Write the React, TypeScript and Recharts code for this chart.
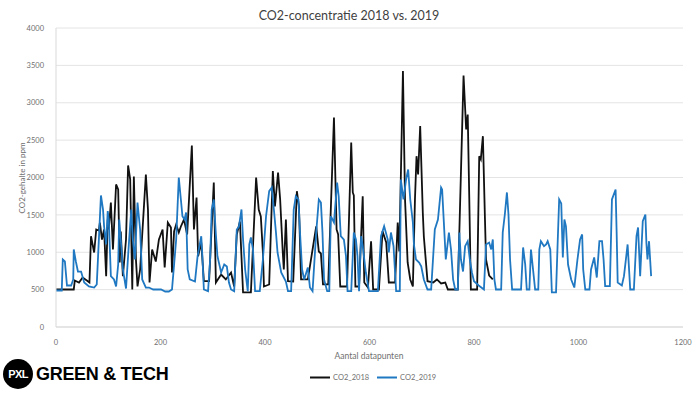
import { LineChart, Line, XAxis, YAxis, CartesianGrid } from 'recharts';

// axis ticks
const xTicks = [0, 200, 400, 600, 800, 1000, 1200];
const yTicks = [0, 500, 1000, 1500, 2000, 2500, 3000, 3500, 4000];

// [datapunt, ppm]
const co2_2018: [number, number][] = [
  [0, 502], [34, 502], [36, 622], [44, 595], [51, 662], [59, 622], [64, 595], [67, 1215], [73, 997], [77, 1305],
  [82, 1291], [84, 1398], [88, 1170], [92, 1305], [96, 680], [99, 1438], [101, 1305], [105, 1666], [109, 1037], [115, 1907],
  [119, 1840], [122, 863], [124, 1278], [128, 680], [134, 1170], [138, 2161], [142, 1974], [146, 502], [149, 2012], [153, 903],
  [156, 542], [161, 769], [172, 2040], [176, 1572], [179, 595], [184, 1037], [191, 876], [197, 1171], [204, 1305], [208, 796],
  [214, 1398], [220, 1331], [222, 729], [226, 1278], [230, 1371], [235, 1264], [239, 1345], [245, 1438], [251, 1238], [260, 2427],
  [264, 1305], [269, 1733], [272, 947], [278, 1131], [283, 613], [293, 613], [302, 1933], [306, 595], [316, 702], [325, 636],
  [335, 729], [341, 542], [346, 1238], [352, 1412], [358, 462], [373, 462], [383, 2000], [388, 1572], [392, 1479], [396, 997],
  [398, 542], [408, 569], [415, 2085], [419, 1612], [425, 2067], [429, 1706], [434, 997], [436, 769], [440, 1438], [444, 613],
  [454, 609], [461, 1817], [465, 1612], [469, 636], [482, 636], [498, 1345], [503, 1010], [507, 983], [511, 569], [521, 569],
  [532, 2803], [537, 1305], [540, 1238], [544, 542], [557, 542], [565, 2468], [568, 1800], [570, 1760], [573, 542], [580, 542],
  [587, 1750], [590, 595], [597, 528], [603, 1148], [607, 502], [618, 502], [625, 1282], [632, 1131], [637, 595], [649, 595],
  [654, 1398], [657, 1010], [660, 2017], [664, 3423], [668, 1706], [673, 863], [678, 636], [683, 542], [687, 1706], [690, 2285],
  [693, 2040], [697, 2687], [702, 1532], [704, 1211], [711, 613], [722, 595], [729, 636], [737, 582], [745, 595], [750, 502],
  [769, 502], [780, 3365], [785, 2643], [788, 2843], [791, 1706], [794, 502], [806, 502], [810, 2285], [813, 2241], [817, 2553],
  [821, 1438], [823, 903], [829, 689], [836, 636],
];

const co2_2019: [number, number][] = [
  [0, 488], [11, 488], [13, 903], [17, 876], [21, 555], [29, 555], [33, 636], [34, 1037], [38, 876], [42, 742],
  [48, 742], [54, 595], [63, 542], [73, 528], [78, 569], [86, 1760], [90, 1572], [92, 1348], [96, 1104], [99, 1550],
  [101, 1438], [105, 680], [111, 636], [115, 542], [119, 836], [121, 1438], [124, 1170], [128, 769], [134, 515], [140, 1170],
  [144, 1572], [147, 1170], [151, 903], [156, 1666], [161, 1305], [165, 636], [172, 528], [178, 528], [186, 502], [201, 502],
  [209, 475], [216, 475], [222, 502], [230, 1170], [235, 2000], [239, 1706], [242, 1482], [246, 1438], [249, 1531], [252, 769],
  [256, 636], [266, 609], [271, 947], [278, 1215], [280, 970], [283, 502], [291, 479], [295, 903], [298, 1572], [302, 1706],
  [306, 1238], [309, 947], [316, 729], [322, 836], [327, 809], [331, 595], [335, 502], [341, 479], [346, 1305], [350, 1341],
  [355, 1572], [358, 1170], [362, 769], [367, 479], [370, 1104], [373, 1198], [377, 1037], [381, 479], [390, 479], [396, 903],
  [402, 1482], [408, 1817], [413, 1866], [417, 1572], [421, 1264], [424, 997], [431, 729], [440, 609], [444, 479], [450, 479],
  [455, 1572], [459, 1750], [464, 1706], [467, 1264], [471, 769], [475, 636], [482, 796], [486, 528], [491, 479], [498, 1264],
  [503, 1706], [507, 1666], [510, 1264], [513, 636], [519, 479], [523, 479], [526, 1482], [532, 1398], [538, 1933], [541, 1750],
  [545, 1215], [551, 1170], [555, 947], [558, 479], [565, 479], [570, 1264], [574, 1170], [577, 947], [580, 479], [584, 1215],
  [587, 1081], [593, 729], [599, 479], [616, 479], [622, 1215], [628, 1348], [635, 1170], [637, 997], [641, 1264], [646, 1081],
  [651, 479], [658, 479], [660, 1973], [665, 1706], [670, 1973], [674, 2107], [678, 1706], [683, 1398], [685, 1104], [689, 903],
  [695, 863], [699, 813], [704, 636], [711, 502], [718, 502], [725, 1305], [731, 1438], [737, 1866], [739, 1840], [742, 1438],
  [746, 903], [752, 1264], [756, 1037], [760, 636], [764, 502], [769, 502], [772, 1264], [775, 903], [779, 742], [783, 1081],
  [788, 1148], [792, 903], [796, 729], [800, 613], [809, 555], [819, 502], [823, 1104], [829, 1130], [833, 1037], [836, 1171],
  [839, 636], [842, 502], [852, 502], [855, 1264], [859, 1505], [863, 1800], [866, 1505], [869, 903], [873, 502], [890, 502],
  [894, 1064], [898, 836], [901, 502], [906, 502], [909, 1037], [913, 769], [917, 502], [923, 502], [925, 1037], [928, 1148],
  [934, 1081], [938, 1104], [941, 1148], [946, 1037], [949, 462], [957, 462], [960, 1104], [963, 1706], [967, 1652], [970, 930],
  [973, 1438], [976, 1345], [980, 836], [986, 636], [992, 528], [998, 903], [1003, 1171], [1007, 1238], [1009, 769], [1013, 502],
  [1021, 502], [1024, 769], [1030, 930], [1035, 662], [1040, 1148], [1045, 1148], [1048, 903], [1051, 546], [1060, 546], [1064, 1706],
  [1071, 1840], [1073, 1264], [1075, 595], [1083, 555], [1087, 680], [1094, 1104], [1099, 502], [1106, 502], [1111, 1215], [1114, 1331],
  [1118, 680], [1123, 1416], [1128, 1505], [1130, 1117], [1132, 903], [1135, 1148], [1139, 680],
];

const BLACK = '#111111';
const BLUE = '#1f78c1';
const GREY_TEXT = '#6f6f6f';

const toRows = (pts: [number, number][]) => pts.map(([x, y]) => ({ x, y }));

function LegendItem({ color, label }: { color: string; label: string }) {
  return (
    <span style={{ display: 'inline-flex', alignItems: 'center', marginRight: 8 }}>
      <span style={{ display: 'inline-block', width: 20, height: 2, background: color, marginRight: 3 }} />
      <span>{label}</span>
    </span>
  );
}

export default function App() {
  return (
    <div
      style={{
        position: 'absolute',
        left: 0,
        top: 0,
        width: 698,
        height: 395,
        background: '#ffffff',
        overflow: 'hidden',
        fontFamily: 'Lato, "Open Sans", sans-serif',
      }}
    >
      <LineChart width={698} height={395} margin={{ top: 28, right: 15, bottom: 38, left: 0 }}>
        <CartesianGrid vertical={false} stroke="#e4e4e4" />
        <XAxis
          type="number"
          dataKey="x"
          domain={[0, 1200]}
          ticks={xTicks}
          height={30}
          tickLine={false}
          axisLine={{ stroke: '#d9d9d9' }}
          tickMargin={7}
          tick={{ fontSize: 7.5, fill: GREY_TEXT }}
        />
        <YAxis
          type="number"
          domain={[0, 4000]}
          ticks={yTicks}
          width={56}
          tickLine={false}
          axisLine={{ stroke: '#d9d9d9' }}
          tickMargin={6}
          tick={{ fontSize: 7.5, fill: GREY_TEXT }}
        />
        <Line
          data={toRows(co2_2018)}
          dataKey="y"
          name="CO2_2018"
          type="linear"
          stroke={BLACK}
          strokeWidth={1.8}
          dot={false}
          isAnimationActive={false}
        />
        <Line
          data={toRows(co2_2019)}
          dataKey="y"
          name="CO2_2019"
          type="linear"
          stroke={BLUE}
          strokeWidth={1.8}
          dot={false}
          isAnimationActive={false}
        />
      </LineChart>

      {/* title */}
      <div
        style={{
          position: 'absolute',
          left: 0,
          width: 698,
          top: 8,
          textAlign: 'center',
          fontSize: 12.5,
          color: '#3f3f3f',
        }}
      >
        CO2-concentratie 2018 vs. 2019
      </div>

      {/* y axis title */}
      <div
        style={{
          position: 'absolute',
          left: 22,
          top: 178,
          transform: 'translate(-50%, -50%) rotate(-90deg)',
          whiteSpace: 'nowrap',
          fontSize: 8,
          color: GREY_TEXT,
        }}
      >
        CO2-gehalte in ppm
      </div>

      {/* x axis title */}
      <div
        style={{
          position: 'absolute',
          left: 369,
          top: 356,
          transform: 'translate(-50%, -50%)',
          whiteSpace: 'nowrap',
          fontSize: 8.5,
          color: GREY_TEXT,
        }}
      >
        Aantal datapunten
      </div>

      {/* legend */}
      <div
        style={{
          position: 'absolute',
          left: 310,
          top: 377,
          transform: 'translateY(-50%)',
          display: 'flex',
          fontSize: 7.5,
          color: GREY_TEXT,
          whiteSpace: 'nowrap',
        }}
      >
        <LegendItem color={BLACK} label="CO2_2018" />
        <LegendItem color={BLUE} label="CO2_2019" />
      </div>

      {/* logo */}
      <div
        style={{
          position: 'absolute',
          left: 3,
          top: 359,
          width: 30,
          height: 30,
          borderRadius: '50%',
          background: '#000',
          color: '#fff',
          display: 'flex',
          alignItems: 'center',
          justifyContent: 'center',
          fontFamily: '"Liberation Sans", Arial, sans-serif',
          fontWeight: 700,
          fontSize: 11,
          letterSpacing: -0.6,
        }}
      >
        PXL
      </div>
      <div
        style={{
          position: 'absolute',
          left: 36,
          top: 374,
          transform: 'translateY(-50%)',
          fontFamily: '"Liberation Sans", Arial, sans-serif',
          fontWeight: 700,
          fontSize: 18,
          color: '#000',
          whiteSpace: 'nowrap',
          letterSpacing: -0.3,
        }}
      >
        GREEN &amp; TECH
      </div>
    </div>
  );
}
